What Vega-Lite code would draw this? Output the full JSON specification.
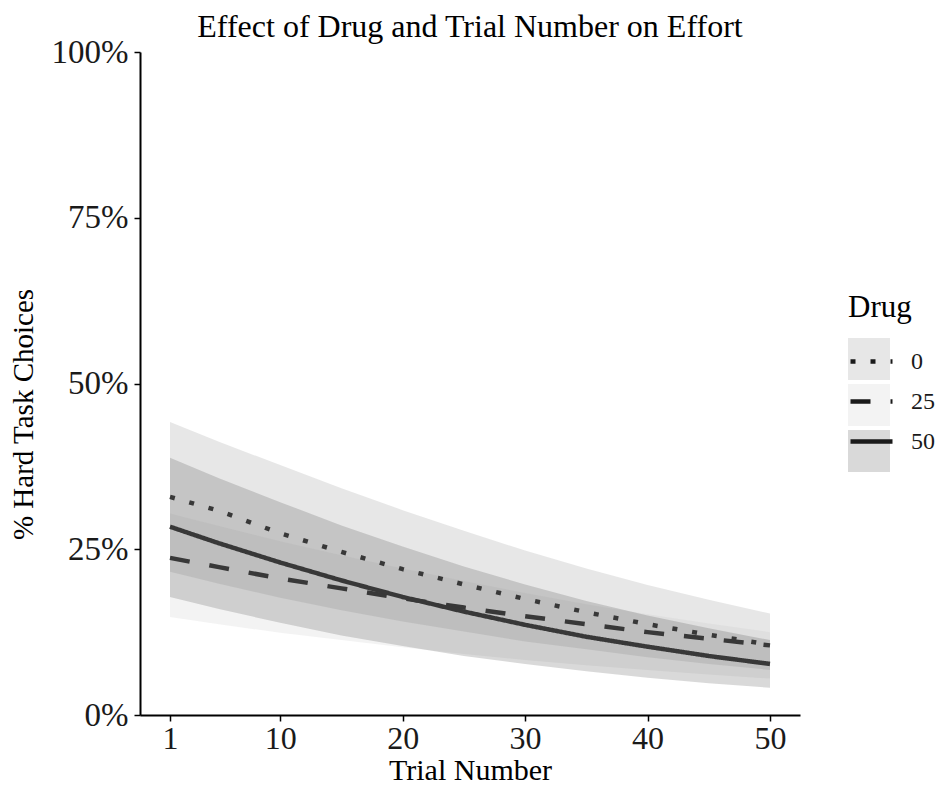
{
  "$schema": "https://vega.github.io/schema/vega-lite/v6.json",
  "width": 660,
  "height": 663,
  "autosize": {"type": "none"},
  "padding": {"left": 140, "top": 52, "right": 145, "bottom": 74},
  "background": "white",
  "title": {"text": "Effect of Drug and Trial Number on Effort", "font": "Liberation Serif", "fontSize": 32, "fontWeight": "normal", "color": "black", "anchor": "middle", "offset": -8},
  "config": {
    "view": {"stroke": null},
    "axis": {"grid": false, "domainColor": "black", "domainWidth": 2, "tickColor": "black", "tickWidth": 1.5, "tickSize": 6, "labelFont": "Liberation Serif", "labelFontSize": 33, "labelColor": "#1a1a1a", "titleFont": "Liberation Serif", "titleFontSize": 30, "titleFontWeight": "normal", "titleColor": "black", "labelFlush": false},
    "legend": {"titleFont": "Liberation Serif", "titleFontSize": 31, "titleFontWeight": "normal", "titleColor": "black", "labelFont": "Liberation Serif", "labelFontSize": 24, "labelColor": "#1a1a1a", "symbolSize": 1764, "rowPadding": 4, "titlePadding": 14, "labelOffset": 16, "direction": "vertical", "orient": "none", "legendX": 708, "legendY": 241}
  },
  "data": {"values": [
    {"Trial": 1, "Drug": "0", "p": 0.329, "lo": 0.216, "hi": 0.442},
    {"Trial": 5, "Drug": "0", "p": 0.308, "lo": 0.198, "hi": 0.412},
    {"Trial": 10, "Drug": "0", "p": 0.274, "lo": 0.177, "hi": 0.377},
    {"Trial": 15, "Drug": "0", "p": 0.246, "lo": 0.158, "hi": 0.342},
    {"Trial": 20, "Drug": "0", "p": 0.220, "lo": 0.141, "hi": 0.309},
    {"Trial": 25, "Drug": "0", "p": 0.197, "lo": 0.126, "hi": 0.278},
    {"Trial": 30, "Drug": "0", "p": 0.175, "lo": 0.111, "hi": 0.248},
    {"Trial": 35, "Drug": "0", "p": 0.155, "lo": 0.099, "hi": 0.221},
    {"Trial": 40, "Drug": "0", "p": 0.137, "lo": 0.087, "hi": 0.196},
    {"Trial": 45, "Drug": "0", "p": 0.121, "lo": 0.077, "hi": 0.174},
    {"Trial": 50, "Drug": "0", "p": 0.106, "lo": 0.068, "hi": 0.153},
    {"Trial": 1, "Drug": "25", "p": 0.237, "lo": 0.148, "hi": 0.304},
    {"Trial": 5, "Drug": "25", "p": 0.223, "lo": 0.137, "hi": 0.285},
    {"Trial": 10, "Drug": "25", "p": 0.206, "lo": 0.124, "hi": 0.262},
    {"Trial": 15, "Drug": "25", "p": 0.191, "lo": 0.113, "hi": 0.241},
    {"Trial": 20, "Drug": "25", "p": 0.176, "lo": 0.102, "hi": 0.221},
    {"Trial": 25, "Drug": "25", "p": 0.162, "lo": 0.092, "hi": 0.202},
    {"Trial": 30, "Drug": "25", "p": 0.149, "lo": 0.083, "hi": 0.184},
    {"Trial": 35, "Drug": "25", "p": 0.137, "lo": 0.075, "hi": 0.167},
    {"Trial": 40, "Drug": "25", "p": 0.125, "lo": 0.068, "hi": 0.152},
    {"Trial": 45, "Drug": "25", "p": 0.115, "lo": 0.061, "hi": 0.138},
    {"Trial": 50, "Drug": "25", "p": 0.105, "lo": 0.055, "hi": 0.125},
    {"Trial": 1, "Drug": "50", "p": 0.284, "lo": 0.178, "hi": 0.388},
    {"Trial": 5, "Drug": "50", "p": 0.259, "lo": 0.160, "hi": 0.357},
    {"Trial": 10, "Drug": "50", "p": 0.230, "lo": 0.139, "hi": 0.321},
    {"Trial": 15, "Drug": "50", "p": 0.203, "lo": 0.120, "hi": 0.286},
    {"Trial": 20, "Drug": "50", "p": 0.178, "lo": 0.104, "hi": 0.254},
    {"Trial": 25, "Drug": "50", "p": 0.156, "lo": 0.089, "hi": 0.224},
    {"Trial": 30, "Drug": "50", "p": 0.136, "lo": 0.077, "hi": 0.197},
    {"Trial": 35, "Drug": "50", "p": 0.118, "lo": 0.066, "hi": 0.172},
    {"Trial": 40, "Drug": "50", "p": 0.103, "lo": 0.056, "hi": 0.150},
    {"Trial": 45, "Drug": "50", "p": 0.089, "lo": 0.048, "hi": 0.131},
    {"Trial": 50, "Drug": "50", "p": 0.077, "lo": 0.041, "hi": 0.113}
  ]},
  "encoding": {
    "x": {"field": "Trial", "type": "quantitative", "scale": {"domain": [-1.45, 52.45], "nice": false, "zero": false}, "axis": {"values": [1, 10, 20, 30, 40, 50], "title": "Trial Number", "labelFontSize": 32, "labelPadding": 2, "titlePadding": 1}}
  },
  "layer": [
    {
      "mark": {"type": "area", "opacity": 0.18},
      "encoding": {
        "y": {"field": "lo", "type": "quantitative", "stack": null, "scale": {"domain": [0, 1], "nice": false}, "axis": {"values": [0, 0.25, 0.5, 0.75, 1], "format": ".0%", "title": "% Hard Task Choices", "titleFontSize": 29, "labelPadding": 6, "titlePadding": 13, "titleY": 362}},
        "y2": {"field": "hi"},
        "fill": {"field": "Drug", "type": "nominal", "scale": {"domain": ["0", "25", "50"], "range": ["#7a7a7a", "#bdbdbd", "#2e2e2e"]}, "legend": {"title": " ", "labelExpr": "''", "symbolType": "square", "symbolOpacity": 0.18, "symbolStrokeWidth": 0}}
      }
    },
    {
      "mark": {"type": "line", "color": "#383838", "strokeWidth": 4.5, "strokeCap": "butt"},
      "encoding": {
        "y": {"field": "p", "type": "quantitative"},
        "strokeDash": {"field": "Drug", "type": "nominal", "scale": {"range": [[5, 15], [20, 20], [1, 0]]}, "legend": {"title": "Drug", "symbolType": "stroke", "symbolStrokeColor": "#1a1a1a", "symbolStrokeWidth": 4.5}}
      }
    }
  ]
}
